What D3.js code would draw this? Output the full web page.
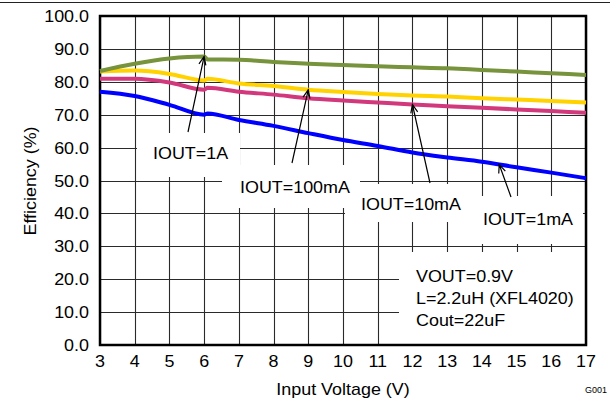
<!DOCTYPE html>
<html><head><meta charset="utf-8">
<script src="https://cdn.jsdelivr.net/npm/d3@7/dist/d3.min.js"></script>
<style>html,body{margin:0;padding:0;background:#fff;}svg{display:block;font-family:"Liberation Sans",Arial,sans-serif;}</style>
</head><body>
<script>
// ---- data ----
const vin = [3,4,5,6,6.1,7,8,9,10,11,12,13,14,15,16,17];
const eff1A   = [83.3,85.5,87.1,87.7,86.8,86.7,86.0,85.5,85.1,84.7,84.4,84.1,83.6,83.1,82.6,82.1];
const eff100mA= [83.1,83.4,82.4,80.4,80.9,79.5,78.7,77.6,76.9,76.3,75.8,75.5,75.0,74.6,74.2,73.7];
const eff10mA = [80.9,80.9,79.8,77.6,78.2,77.0,76.1,75.0,74.3,73.7,73.1,72.6,72.1,71.6,71.1,70.6];
const eff1mA  = [77.0,75.7,73.0,70.0,70.4,68.4,66.6,64.4,62.3,60.5,58.5,57.0,55.7,54.0,52.4,50.7];
const xTicks = [3,4,5,6,7,8,9,10,11,12,13,14,15,16,17];
const yTicks = [0,10,20,30,40,50,60,70,80,90,100];
const seriesNames = ["IOUT=1A","IOUT=100mA","IOUT=10mA","IOUT=1mA"];
const seriesColors = ["#77933C","#FFD200","#D2387C","#0000FF"];
const conditions = ["VOUT=0.9V","L=2.2uH (XFL4020)","Cout=22uF"];

const W=613,H=403;
const svg=d3.select("body").append("svg").attr("width",W).attr("height",H);
const x=d3.scaleLinear().domain([3,17]).range([100,586]);
const y=d3.scaleLinear().domain([0,100]).range([345,16]);
const SX=1.12, FS=16;
function txt(g,str,px,py,anchor,rot){
  return g.append("text").attr("transform",`translate(${px},${py})`+(rot?` rotate(${rot})`:"")+` scale(${SX},1)`)
   .attr("text-anchor",anchor||"start").attr("font-size",FS).attr("fill","#000").text(str);
}
// page rule
svg.append("line").attr("x1",0).attr("x2",610).attr("y1",2.5).attr("y2",2.5).attr("stroke","#222").attr("stroke-width",1);

// grid
const grid=svg.append("g").attr("stroke","#2a2a2a").attr("stroke-width",1.1);
xTicks.forEach(t=>grid.append("line").attr("x1",Math.round(x(t))+0.5).attr("x2",Math.round(x(t))+0.5).attr("y1",y(100)).attr("y2",y(0)));
yTicks.forEach(t=>grid.append("line").attr("x1",x(3)).attr("x2",x(17)).attr("y1",Math.round(y(t))+0.5).attr("y2",Math.round(y(t))+0.5));

// label boxes (white, hiding grid)
const boxes=[[137,133,240,177],[222,165,360,208],[345,184,472,222],[472,196,583,244],[399,252,586,345]];
boxes.forEach(b=>svg.append("rect").attr("x",b[0]).attr("y",b[1]).attr("width",b[2]-b[0]).attr("height",b[3]-b[1]).attr("fill","#fff"));

// frame
svg.append("rect").attr("x",x(3)).attr("y",y(100)).attr("width",x(17)-x(3)).attr("height",y(0)-y(100))
  .attr("fill","none").attr("stroke","#000").attr("stroke-width",2.5);

// curves
const all=[eff1A,eff100mA,eff10mA,eff1mA];
const line=d3.line().x(d=>x(d[0])).y(d=>y(d[1])).curve(d3.curveMonotoneX);
all.slice().reverse().forEach((s,i)=>{
  const k=3-i;
  svg.append("path").datum(vin.map((v,j)=>[v,s[j]])).attr("d",line).attr("fill","none")
    .attr("stroke",seriesColors[k]).attr("stroke-width",4).attr("stroke-linejoin","round");
});

// arrows: [tail x, tail y, tip voltage, series index]
const arrows=[[188,132,6.0,0],[292,163,9,1],[430,183,12,2],[511,197,14.5,3]];
arrows.forEach(a=>{
  const s=all[a[3]];
  const tv=d3.scaleLinear().domain(vin).range(s)(a[2]);
  const tx=x(a[2]), ty=y(tv);
  const ang=Math.atan2(ty-a[1],tx-a[0]);
  const L=9, sp=0.4;
  const p=d3.path();
  p.moveTo(a[0],a[1]); p.lineTo(tx,ty);
  p.moveTo(tx-L*Math.cos(ang-sp),ty-L*Math.sin(ang-sp)); p.lineTo(tx,ty);
  p.lineTo(tx-L*Math.cos(ang+sp),ty-L*Math.sin(ang+sp));
  svg.append("path").attr("d",p.toString()).attr("fill","none").attr("stroke","#000").attr("stroke-width",1.2);
});

// tick labels
const tg=svg.append("g");
yTicks.forEach(t=>txt(tg,t.toFixed(1),89,y(t)+6,"end"));
xTicks.forEach(t=>txt(tg,String(t),x(t),367,"middle"));
txt(svg,"Input Voltage (V)",343,395,"middle");
txt(svg,"Efficiency (%)",36,181,"middle",-90);
svg.append("text").attr("x",585).attr("y",393).attr("font-size",9).text("G001");

// series labels
const labelPos=[[153,159],[240,193],[361,210],[483,225]];
seriesNames.forEach((n,i)=>txt(svg,n,labelPos[i][0],labelPos[i][1],"start"));
conditions.forEach((c,i)=>txt(svg,c,416,282+i*22,"start"));
</script>
</body></html>
